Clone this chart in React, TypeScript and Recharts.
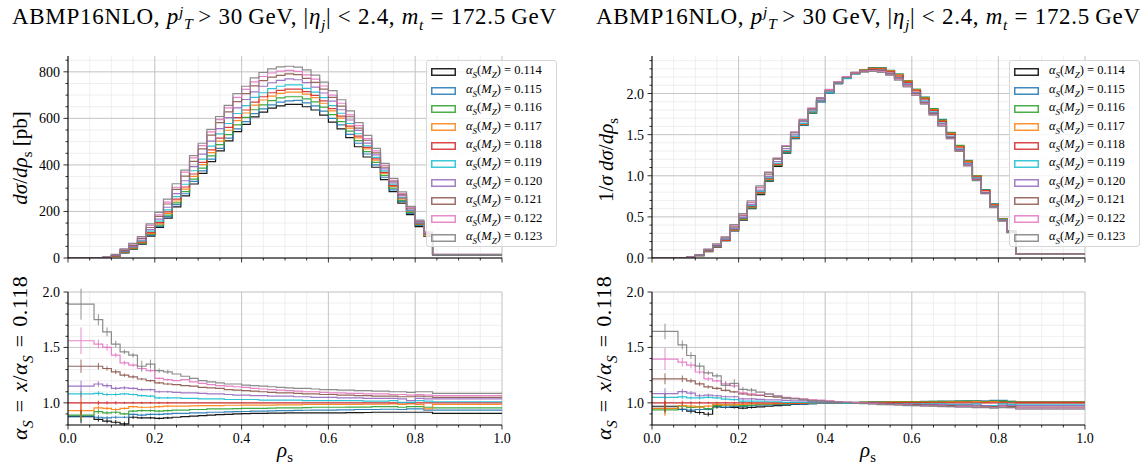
import React from "react";
import { ComposedChart, Line, Scatter, ErrorBar, XAxis, YAxis, CartesianGrid } from "recharts";

const FONT = "'Liberation Serif', 'DejaVu Serif', serif";

// bin edges in rho_s (first bin 0-0.06, last bin 0.84-1.0)
const EDGES = [
  0, 0.06, 0.08, 0.1, 0.12, 0.14, 0.16, 0.18, 0.2, 0.22, 0.24, 0.26, 0.28, 0.3,
  0.32, 0.34, 0.36, 0.38, 0.4, 0.42, 0.44, 0.46, 0.48, 0.5, 0.52, 0.54, 0.56,
  0.58, 0.6, 0.62, 0.64, 0.66, 0.68, 0.7, 0.72, 0.74, 0.76, 0.78, 0.8, 0.82,
  0.84, 1.0,
];

const ALPHAS = ["0.114", "0.115", "0.116", "0.117", "0.118", "0.119", "0.120", "0.121", "0.122", "0.123"];
const COLORS = ["#000000", "#1f77b4", "#2ca02c", "#ff7f0e", "#d62728", "#17becf", "#9467bd", "#8c564b", "#e377c2", "#7f7f7f"];

// d sigma / d rho_s [pb]
const XS_114 = [0, 0, 2, 8, 22, 38, 60, 94, 131, 171, 220, 267, 318, 364, 414, 460, 503, 543, 574, 606, 627, 644, 654, 660, 660, 650, 636, 614, 584, 555, 517, 478, 434, 390, 337, 285, 236, 186, 135, 93, 13];
const XS_115 = [0, 0, 2.2, 8.7, 23.5, 39.4, 61.4, 97.6, 136, 178, 229, 276, 329, 374, 425, 471, 515, 555, 586, 620, 641, 658, 670, 675, 677, 667, 654, 631, 600, 572, 531, 493, 447, 400, 347, 293, 243, 192, 140, 95, 13.5];
const XS_116 = [0, 0, 2.3, 9.2, 24.3, 40.7, 64.2, 101, 141, 184, 237, 285, 339, 386, 439, 487, 530, 572, 604, 637, 658, 676, 688, 693, 693, 684, 671, 648, 616, 586, 545, 504, 457, 411, 355, 300, 248, 196, 143, 98, 13.8];
const XS_117 = [0, 0, 2.4, 9.4, 25.7, 42.5, 66.2, 104.6, 146.7, 192, 245, 296, 351, 401, 453, 502, 549, 590, 623, 657, 679, 696, 707, 713, 713, 704, 689, 665, 632, 601, 558, 516, 469, 420, 363, 308, 254, 201, 146, 96, 14.2];
const XS_118 = [0, 0, 2.5, 10, 27, 44, 69, 109, 152, 198, 253, 305, 361, 411, 465, 515, 561, 603, 636, 670, 693, 710, 720, 726, 726, 715, 699, 675, 642, 610, 567, 524, 475, 426, 368, 311, 258, 203, 148, 102, 14.4];
const XS_119 = [0, 0, 2.7, 10.8, 29.2, 47.3, 73.5, 115.5, 158.8, 207, 264, 317, 375, 425, 481, 533, 578, 621, 655, 690, 710, 728, 738, 744, 744, 729, 713, 689, 655, 622, 578, 534, 482, 432, 374, 317, 259, 204, 151, 104, 14.5];
const XS_120 = [0, 0, 2.9, 11.3, 30.6, 49.7, 77.3, 122, 167, 218, 277, 332, 393, 446, 502, 556, 603, 645, 681, 714, 738, 753, 763, 770, 766, 754, 734, 709, 674, 637, 593, 548, 494, 443, 383, 323, 267, 207, 154, 106, 14.9];
const XS_121 = [0, 0, 3.3, 12.8, 33.8, 54.3, 83.8, 131, 179, 232, 295, 352, 415, 469, 528, 582, 628, 672, 706, 740, 762, 777, 785, 791, 788, 772, 755, 726, 690, 653, 607, 558, 506, 452, 390, 330, 272, 214, 157, 108, 15.1];
const XS_122 = [0, 0, 3.8, 14.3, 36.7, 59, 90.4, 140.6, 185, 240, 304, 369, 430, 483, 542, 595, 645, 690, 725, 757, 780, 795, 803, 806, 802, 787, 769, 739, 700, 665, 615, 569, 513, 460, 397, 334, 277, 217, 159, 109, 15.3];
const XS_123 = [0, 0, 4.1, 15.3, 39.4, 62.9, 91.8, 147, 196, 253, 319, 378, 440, 493, 553, 608, 656, 706, 738, 774, 797, 813, 821, 824, 820, 808, 786, 756, 719, 680, 632, 582, 527, 471, 407, 342, 284, 222, 163, 112, 15.6];

// 1/sigma d sigma / d rho_s
const NORM_114 = [0, 0, 0.007, 0.028, 0.077, 0.133, 0.21, 0.329, 0.459, 0.599, 0.771, 0.935, 1.114, 1.275, 1.45, 1.611, 1.762, 1.902, 2.011, 2.123, 2.196, 2.256, 2.291, 2.312, 2.312, 2.277, 2.228, 2.151, 2.046, 1.944, 1.811, 1.674, 1.52, 1.366, 1.181, 0.998, 0.827, 0.652, 0.473, 0.326, 0.046];
const NORM_115 = [0, 0, 0.0075, 0.03, 0.08, 0.135, 0.21, 0.334, 0.465, 0.609, 0.783, 0.944, 1.125, 1.279, 1.454, 1.611, 1.761, 1.898, 2.004, 2.12, 2.192, 2.25, 2.291, 2.309, 2.315, 2.281, 2.237, 2.158, 2.052, 1.956, 1.816, 1.686, 1.529, 1.368, 1.187, 1.002, 0.831, 0.657, 0.479, 0.325, 0.046];
const NORM_116 = [0, 0, 0.0077, 0.031, 0.081, 0.136, 0.214, 0.336, 0.47, 0.613, 0.789, 0.949, 1.129, 1.286, 1.462, 1.622, 1.765, 1.905, 2.012, 2.122, 2.192, 2.252, 2.292, 2.308, 2.308, 2.278, 2.235, 2.158, 2.052, 1.952, 1.815, 1.679, 1.522, 1.369, 1.183, 0.999, 0.826, 0.653, 0.476, 0.326, 0.046];
const NORM_117 = [0, 0, 0.0078, 0.03, 0.083, 0.137, 0.214, 0.338, 0.474, 0.621, 0.792, 0.957, 1.135, 1.296, 1.465, 1.623, 1.775, 1.907, 2.014, 2.124, 2.195, 2.25, 2.286, 2.305, 2.305, 2.276, 2.228, 2.15, 2.043, 1.943, 1.804, 1.668, 1.516, 1.358, 1.174, 0.996, 0.821, 0.65, 0.472, 0.31, 0.046];
const NORM_118 = [0, 0, 0.0079, 0.0316, 0.0854, 0.139, 0.218, 0.345, 0.481, 0.626, 0.8, 0.965, 1.142, 1.3, 1.471, 1.629, 1.775, 1.908, 2.012, 2.12, 2.192, 2.246, 2.278, 2.297, 2.297, 2.262, 2.211, 2.135, 2.031, 1.93, 1.794, 1.658, 1.503, 1.348, 1.164, 0.984, 0.816, 0.642, 0.468, 0.323, 0.0456];
const NORM_119 = [0, 0, 0.0083, 0.033, 0.09, 0.145, 0.226, 0.355, 0.488, 0.636, 0.811, 0.974, 1.152, 1.306, 1.478, 1.637, 1.776, 1.908, 2.012, 2.12, 2.181, 2.236, 2.267, 2.286, 2.286, 2.24, 2.19, 2.117, 2.012, 1.911, 1.776, 1.64, 1.481, 1.327, 1.149, 0.974, 0.796, 0.627, 0.464, 0.319, 0.0445];
const NORM_120 = [0, 0, 0.0086, 0.034, 0.091, 0.148, 0.23, 0.364, 0.498, 0.65, 0.825, 0.989, 1.171, 1.329, 1.496, 1.657, 1.797, 1.922, 2.029, 2.128, 2.199, 2.244, 2.274, 2.295, 2.283, 2.247, 2.187, 2.113, 2.009, 1.898, 1.767, 1.633, 1.472, 1.32, 1.141, 0.963, 0.796, 0.617, 0.459, 0.316, 0.0444];
const NORM_121 = [0, 0, 0.0096, 0.037, 0.098, 0.157, 0.243, 0.379, 0.518, 0.672, 0.854, 1.019, 1.201, 1.358, 1.529, 1.685, 1.818, 1.945, 2.044, 2.142, 2.206, 2.249, 2.273, 2.29, 2.281, 2.235, 2.186, 2.102, 1.998, 1.89, 1.757, 1.615, 1.465, 1.309, 1.129, 0.955, 0.787, 0.62, 0.455, 0.313, 0.0437];
const NORM_122 = [0, 0, 0.0106, 0.04, 0.104, 0.167, 0.256, 0.398, 0.523, 0.679, 0.86, 1.044, 1.216, 1.366, 1.533, 1.683, 1.824, 1.951, 2.05, 2.141, 2.206, 2.248, 2.271, 2.279, 2.268, 2.226, 2.175, 2.09, 1.98, 1.881, 1.739, 1.609, 1.451, 1.301, 1.123, 0.945, 0.783, 0.614, 0.45, 0.308, 0.0433];
const NORM_123 = [0, 0, 0.0113, 0.042, 0.108, 0.173, 0.253, 0.405, 0.539, 0.696, 0.878, 1.04, 1.211, 1.357, 1.522, 1.673, 1.805, 1.943, 2.031, 2.13, 2.193, 2.237, 2.259, 2.268, 2.257, 2.224, 2.163, 2.081, 1.979, 1.871, 1.739, 1.602, 1.45, 1.296, 1.12, 0.941, 0.782, 0.611, 0.449, 0.308, 0.0429];

// ratio to alpha_S = 0.118, d sigma / d rho_s
const RAT_114 = [0.875, 0.85, 0.835, 0.825, 0.81, 0.87, 0.865, 0.865, 0.86, 0.865, 0.87, 0.875, 0.88, 0.885, 0.89, 0.893, 0.896, 0.9, 0.903, 0.905, 0.905, 0.907, 0.908, 0.909, 0.909, 0.909, 0.91, 0.91, 0.91, 0.91, 0.912, 0.912, 0.913, 0.915, 0.915, 0.915, 0.915, 0.915, 0.915, 0.915, 0.905];
const RAT_115 = [0.88, 0.87, 0.865, 0.87, 0.87, 0.895, 0.89, 0.895, 0.895, 0.9, 0.905, 0.905, 0.91, 0.91, 0.915, 0.915, 0.918, 0.92, 0.922, 0.925, 0.925, 0.927, 0.93, 0.93, 0.932, 0.933, 0.935, 0.935, 0.935, 0.937, 0.937, 0.94, 0.94, 0.94, 0.942, 0.942, 0.94, 0.945, 0.945, 0.935, 0.935];
const RAT_116 = [0.89, 0.92, 0.91, 0.915, 0.9, 0.925, 0.93, 0.93, 0.925, 0.93, 0.935, 0.935, 0.94, 0.94, 0.945, 0.945, 0.945, 0.948, 0.95, 0.95, 0.95, 0.952, 0.955, 0.955, 0.955, 0.957, 0.96, 0.96, 0.96, 0.96, 0.962, 0.962, 0.962, 0.965, 0.965, 0.965, 0.96, 0.965, 0.965, 0.96, 0.955];
const RAT_117 = [0.93, 0.955, 0.95, 0.94, 0.95, 0.965, 0.96, 0.96, 0.965, 0.97, 0.97, 0.97, 0.972, 0.975, 0.975, 0.975, 0.978, 0.978, 0.98, 0.98, 0.98, 0.98, 0.982, 0.982, 0.982, 0.985, 0.985, 0.985, 0.985, 0.985, 0.985, 0.985, 0.987, 0.987, 0.987, 0.99, 0.985, 0.99, 0.985, 0.945, 0.985];
const RAT_118 = [1, 1, 1, 1, 1, 1, 1, 1, 1, 1, 1, 1, 1, 1, 1, 1, 1, 1, 1, 1, 1, 1, 1, 1, 1, 1, 1, 1, 1, 1, 1, 1, 1, 1, 1, 1, 1, 1, 1, 1, 1];
const RAT_119 = [1.08, 1.085, 1.075, 1.075, 1.08, 1.075, 1.065, 1.06, 1.045, 1.045, 1.045, 1.04, 1.04, 1.035, 1.035, 1.035, 1.03, 1.03, 1.03, 1.03, 1.025, 1.025, 1.025, 1.025, 1.025, 1.02, 1.02, 1.02, 1.02, 1.02, 1.02, 1.02, 1.015, 1.015, 1.015, 1.02, 1.005, 1.005, 1.02, 1.015, 1.01];
const RAT_120 = [1.15, 1.17, 1.155, 1.13, 1.135, 1.13, 1.12, 1.12, 1.1, 1.1, 1.095, 1.09, 1.09, 1.085, 1.08, 1.08, 1.075, 1.07, 1.07, 1.065, 1.065, 1.06, 1.06, 1.06, 1.055, 1.055, 1.05, 1.05, 1.05, 1.045, 1.045, 1.045, 1.04, 1.04, 1.04, 1.04, 1.035, 1.02, 1.04, 1.035, 1.035];
const RAT_121 = [1.33, 1.33, 1.31, 1.28, 1.25, 1.235, 1.215, 1.2, 1.18, 1.17, 1.165, 1.155, 1.15, 1.14, 1.135, 1.13, 1.12, 1.115, 1.11, 1.105, 1.1, 1.095, 1.09, 1.09, 1.085, 1.08, 1.08, 1.075, 1.075, 1.07, 1.07, 1.065, 1.065, 1.06, 1.06, 1.06, 1.055, 1.055, 1.06, 1.055, 1.05];
const RAT_122 = [1.56, 1.53, 1.5, 1.43, 1.36, 1.34, 1.31, 1.29, 1.22, 1.21, 1.2, 1.21, 1.19, 1.175, 1.165, 1.155, 1.15, 1.145, 1.14, 1.13, 1.125, 1.12, 1.115, 1.11, 1.105, 1.1, 1.1, 1.095, 1.09, 1.09, 1.085, 1.085, 1.08, 1.08, 1.08, 1.075, 1.075, 1.07, 1.075, 1.07, 1.065];
const RAT_123 = [1.89, 1.75, 1.64, 1.53, 1.46, 1.43, 1.33, 1.35, 1.29, 1.28, 1.26, 1.24, 1.22, 1.2, 1.19, 1.18, 1.17, 1.17, 1.16, 1.155, 1.15, 1.145, 1.14, 1.135, 1.13, 1.13, 1.125, 1.12, 1.12, 1.115, 1.115, 1.11, 1.11, 1.105, 1.105, 1.1, 1.1, 1.095, 1.1, 1.1, 1.085];

// ratio to alpha_S = 0.118, normalised distribution
const RATN_114 = [0.969, 0.941, 0.924, 0.913, 0.897, 0.963, 0.958, 0.958, 0.952, 0.958, 0.963, 0.969, 0.974, 0.98, 0.985, 0.989, 0.992, 0.996, 1.0, 1.002, 1.002, 1.004, 1.005, 1.006, 1.006, 1.006, 1.007, 1.007, 1.007, 1.007, 1.01, 1.01, 1.011, 1.013, 1.013, 1.013, 1.013, 1.013, 1.013, 1.013, 1.002];
const RATN_115 = [0.951, 0.94, 0.935, 0.94, 0.94, 0.967, 0.962, 0.967, 0.967, 0.973, 0.978, 0.978, 0.984, 0.984, 0.989, 0.989, 0.992, 0.995, 0.997, 1.0, 1.0, 1.002, 1.005, 1.005, 1.007, 1.009, 1.011, 1.011, 1.011, 1.013, 1.013, 1.016, 1.016, 1.016, 1.018, 1.018, 1.016, 1.022, 1.022, 1.011, 1.011];
const RATN_116 = [0.937, 0.969, 0.958, 0.963, 0.948, 0.974, 0.979, 0.979, 0.974, 0.979, 0.985, 0.985, 0.99, 0.99, 0.995, 0.995, 0.995, 0.998, 1.0, 1.0, 1.0, 1.002, 1.006, 1.006, 1.006, 1.008, 1.011, 1.011, 1.011, 1.011, 1.013, 1.013, 1.013, 1.016, 1.016, 1.016, 1.011, 1.016, 1.016, 1.011, 1.006];
const RATN_117 = [0.95, 0.976, 0.971, 0.961, 0.971, 0.986, 0.981, 0.981, 0.986, 0.991, 0.991, 0.991, 0.993, 0.996, 0.996, 0.996, 0.999, 0.999, 1.002, 1.002, 1.002, 1.002, 1.004, 1.004, 1.004, 1.007, 1.007, 1.007, 1.007, 1.007, 1.007, 1.007, 1.009, 1.009, 1.009, 1.012, 1.007, 1.012, 1.007, 0.966, 1.007];
const RATN_118 = [1, 1, 1, 1, 1, 1, 1, 1, 1, 1, 1, 1, 1, 1, 1, 1, 1, 1, 1, 1, 1, 1, 1, 1, 1, 1, 1, 1, 1, 1, 1, 1, 1, 1, 1, 1, 1, 1, 1, 1, 1];
const RATN_119 = [1.049, 1.054, 1.044, 1.044, 1.049, 1.044, 1.034, 1.029, 1.015, 1.015, 1.015, 1.01, 1.01, 1.005, 1.005, 1.005, 1.0, 1.0, 1.0, 1.0, 0.995, 0.995, 0.995, 0.995, 0.995, 0.99, 0.99, 0.99, 0.99, 0.99, 0.99, 0.99, 0.986, 0.986, 0.986, 0.99, 0.976, 0.976, 0.99, 0.986, 0.981];
const RATN_120 = [1.083, 1.102, 1.088, 1.064, 1.069, 1.064, 1.055, 1.055, 1.036, 1.036, 1.031, 1.027, 1.027, 1.022, 1.017, 1.017, 1.013, 1.008, 1.008, 1.003, 1.003, 0.999, 0.999, 0.999, 0.994, 0.994, 0.989, 0.989, 0.989, 0.984, 0.984, 0.984, 0.98, 0.98, 0.98, 0.98, 0.975, 0.961, 0.98, 0.975, 0.975];
const RATN_121 = [1.217, 1.217, 1.199, 1.171, 1.144, 1.13, 1.112, 1.098, 1.08, 1.071, 1.066, 1.057, 1.052, 1.043, 1.039, 1.034, 1.025, 1.02, 1.016, 1.011, 1.007, 1.002, 0.997, 0.997, 0.993, 0.988, 0.988, 0.984, 0.984, 0.979, 0.979, 0.974, 0.974, 0.97, 0.97, 0.97, 0.965, 0.965, 0.97, 0.965, 0.961];
const RATN_122 = [1.395, 1.368, 1.341, 1.278, 1.216, 1.198, 1.171, 1.153, 1.091, 1.082, 1.073, 1.082, 1.064, 1.05, 1.042, 1.033, 1.028, 1.024, 1.019, 1.01, 1.006, 1.001, 0.997, 0.992, 0.988, 0.983, 0.983, 0.979, 0.974, 0.974, 0.97, 0.97, 0.966, 0.966, 0.966, 0.961, 0.961, 0.957, 0.961, 0.957, 0.952];
const RATN_123 = [1.644, 1.523, 1.427, 1.331, 1.27, 1.244, 1.157, 1.175, 1.122, 1.114, 1.096, 1.079, 1.061, 1.044, 1.035, 1.027, 1.018, 1.018, 1.009, 1.005, 1.001, 0.996, 0.992, 0.987, 0.983, 0.983, 0.979, 0.974, 0.974, 0.97, 0.97, 0.966, 0.966, 0.961, 0.961, 0.957, 0.957, 0.953, 0.957, 0.957, 0.944];

// statistical errors on the ratios, first ten bins (half widths)
const ERR_114 = [0.06, 0.02, 0.02, 0.02, 0.02, 0.015, 0.01, 0.01, 0.01, 0.01];
const ERR_115 = [0.05, 0.02, 0.015, 0.015, 0.01, 0.01, 0.01, 0.01, 0.01, 0.01];
const ERR_116 = [0.05, 0.02, 0.015, 0.015, 0.01, 0.01, 0.01, 0.01, 0.01, 0.01];
const ERR_117 = [0.08, 0.02, 0.015, 0.015, 0.01, 0.01, 0.01, 0.01, 0.01, 0.01];
const ERR_118 = [0.1, 0.02, 0.015, 0.015, 0.01, 0.01, 0.01, 0.01, 0.01, 0.01];
const ERR_119 = [0.03, 0.02, 0.015, 0.015, 0.01, 0.01, 0.01, 0.01, 0.01, 0.01];
const ERR_120 = [0.05, 0.025, 0.02, 0.015, 0.015, 0.01, 0.01, 0.01, 0.01, 0.01];
const ERR_121 = [0.06, 0.03, 0.02, 0.02, 0.015, 0.015, 0.01, 0.01, 0.01, 0.01];
const ERR_122 = [0.12, 0.04, 0.03, 0.02, 0.02, 0.015, 0.015, 0.015, 0.01, 0.01];
const ERR_123 = [0.14, 0.05, 0.04, 0.03, 0.02, 0.02, 0.05, 0.04, 0.02, 0.02];

const ERRN_114 = [0.05, 0.02, 0.02, 0.02, 0.02, 0.015, 0.01, 0.01, 0.01, 0.01];
const ERRN_115 = [0.04, 0.02, 0.015, 0.015, 0.01, 0.01, 0.01, 0.01, 0.01, 0.01];
const ERRN_116 = [0.04, 0.02, 0.015, 0.015, 0.01, 0.01, 0.01, 0.01, 0.01, 0.01];
const ERRN_117 = [0.07, 0.02, 0.015, 0.015, 0.01, 0.01, 0.01, 0.01, 0.01, 0.01];
const ERRN_118 = [0.08, 0.02, 0.015, 0.015, 0.01, 0.01, 0.01, 0.01, 0.01, 0.01];
const ERRN_119 = [0.03, 0.02, 0.015, 0.015, 0.01, 0.01, 0.01, 0.01, 0.01, 0.01];
const ERRN_120 = [0.05, 0.025, 0.02, 0.015, 0.015, 0.01, 0.01, 0.01, 0.01, 0.01];
const ERRN_121 = [0.05, 0.03, 0.02, 0.02, 0.015, 0.015, 0.01, 0.01, 0.01, 0.01];
const ERRN_122 = [0.1, 0.04, 0.03, 0.02, 0.02, 0.015, 0.015, 0.015, 0.01, 0.01];
const ERRN_123 = [0.07, 0.04, 0.03, 0.03, 0.02, 0.02, 0.04, 0.04, 0.02, 0.02];

// axis ticks
const X_MAJOR = [0, 0.2, 0.4, 0.6, 0.8, 1.0];
const X_MINOR = [0, 0.05, 0.1, 0.15, 0.2, 0.25, 0.3, 0.35, 0.4, 0.45, 0.5, 0.55, 0.6, 0.65, 0.7, 0.75, 0.8, 0.85, 0.9, 0.95, 1.0];
const XS_MAJOR = [0, 200, 400, 600, 800];
const XS_MINOR = [0, 50, 100, 150, 200, 250, 300, 350, 400, 450, 500, 550, 600, 650, 700, 750, 800, 850];
const NORM_MAJOR = [0, 0.5, 1.0, 1.5, 2.0];
const NORM_MINOR = [0, 0.1, 0.2, 0.3, 0.4, 0.5, 0.6, 0.7, 0.8, 0.9, 1.0, 1.1, 1.2, 1.3, 1.4, 1.5, 1.6, 1.7, 1.8, 1.9, 2.0, 2.1, 2.2, 2.3, 2.4];
const RAT_MAJOR = [1.0, 1.5, 2.0];
const RAT_MINOR = [0.8, 0.9, 1.0, 1.1, 1.2, 1.3, 1.4, 1.5, 1.6, 1.7, 1.8, 1.9, 2.0];

const XS = [XS_114, XS_115, XS_116, XS_117, XS_118, XS_119, XS_120, XS_121, XS_122, XS_123];
const NORM = [NORM_114, NORM_115, NORM_116, NORM_117, NORM_118, NORM_119, NORM_120, NORM_121, NORM_122, NORM_123];
const RAT = [RAT_114, RAT_115, RAT_116, RAT_117, RAT_118, RAT_119, RAT_120, RAT_121, RAT_122, RAT_123];
const RATN = [RATN_114, RATN_115, RATN_116, RATN_117, RATN_118, RATN_119, RATN_120, RATN_121, RATN_122, RATN_123];
const ERR = [ERR_114, ERR_115, ERR_116, ERR_117, ERR_118, ERR_119, ERR_120, ERR_121, ERR_122, ERR_123];
const ERRN = [ERRN_114, ERRN_115, ERRN_116, ERRN_117, ERRN_118, ERRN_119, ERRN_120, ERRN_121, ERRN_122, ERRN_123];

// one row per bin edge, last edge repeats the last bin so stepAfter closes at 1.0
function buildRows(sets: number[][]) {
  return EDGES.map((x, i) => {
    const row: Record<string, number> = { x };
    sets.forEach((vals, k) => {
      row["s" + k] = vals[Math.min(i, vals.length - 1)];
    });
    return row;
  });
}

// error bar points at the bin centres
function buildErrRows(vals: number[], errs: number[]) {
  return errs.map((e, i) => ({ x: (EDGES[i] + EDGES[i + 1]) / 2, y: vals[i], e }));
}

const isIn = (list: number[], v: number) => list.some((m) => Math.abs(m - v) < 1e-6);

const makeYTick = (major: number[], fmt: (v: number) => string) => (props: any) => {
  const { x, y, payload } = props;
  const big = isIn(major, payload.value);
  return (
    <g>
      <line x1={x} x2={x - (big ? 4.5 : 2.5)} y1={y} y2={y} stroke="#000" strokeWidth={0.8} />
      {big ? (
        <text x={x - 8} y={y} dy="0.36em" textAnchor="end" fontSize={14} fontFamily={FONT} fill="#000">
          {fmt(payload.value)}
        </text>
      ) : null}
    </g>
  );
};

const makeXTick = (showLabels: boolean) => (props: any) => {
  const { x, y, payload } = props;
  const big = isIn(X_MAJOR, payload.value);
  return (
    <g>
      <line x1={x} x2={x} y1={y} y2={y + (big ? 4.5 : 2.5)} stroke="#000" strokeWidth={0.8} />
      {big && showLabels ? (
        <text x={x} y={y + 13} dy="0.36em" textAnchor="middle" fontSize={14} fontFamily={FONT} fill="#000">
          {payload.value.toFixed(1)}
        </text>
      ) : null}
    </g>
  );
};

const NoDot = () => <g />;

interface PanelProps {
  left: number;
  top: number;
  w: number;
  h: number;
  sets: number[][];
  errs?: number[][];
  yDomain: [number, number];
  yMajor: number[];
  yMinor: number[];
  yFmt: (v: number) => string;
  xLabels: boolean;
}

function Panel({ left, top, w, h, sets, errs, yDomain, yMajor, yMinor, yFmt, xLabels }: PanelProps) {
  const YW = 60;
  const PT = 12;
  const PR = 16;
  const XH = 28;
  const rows = buildRows(sets);
  return (
    <div style={{ position: "absolute", left: left - YW, top: top - PT }}>
      <ComposedChart
        width={YW + w + PR}
        height={PT + h + XH}
        data={rows}
        margin={{ top: PT, right: PR, left: 0, bottom: 0 }}
      >
        <CartesianGrid horizontalValues={yMinor} verticalValues={X_MINOR} stroke="#ebebeb" strokeWidth={0.8} />
        <CartesianGrid horizontalValues={yMajor} verticalValues={X_MAJOR} stroke="#bdbdbd" strokeWidth={0.8} />
        <XAxis
          type="number"
          dataKey="x"
          domain={[0, 1]}
          ticks={X_MINOR}
          interval={0}
          height={XH}
          tickSize={0}
          tickMargin={0}
          tickLine={false}
          tick={makeXTick(xLabels)}
          stroke="#000"
          allowDataOverflow
        />
        <XAxis xAxisId="top" orientation="top" type="number" dataKey="x" domain={[0, 1]} height={0} tick={false} tickLine={false} stroke="#000" />
        <YAxis
          type="number"
          domain={yDomain}
          ticks={yMinor}
          interval={0}
          width={YW}
          tickSize={0}
          tickMargin={0}
          tickLine={false}
          tick={makeYTick(yMajor, yFmt)}
          stroke="#000"
          allowDataOverflow
        />
        <YAxis yAxisId="right" orientation="right" type="number" domain={yDomain} width={0} tick={false} tickLine={false} stroke="#000" />
        {ALPHAS.map((a, k) => (
          <Line
            key={a}
            type="stepAfter"
            dataKey={"s" + k}
            stroke={COLORS[k]}
            strokeWidth={1.2}
            strokeOpacity={0.9}
            dot={false}
            isAnimationActive={false}
          />
        ))}
        {errs
          ? ALPHAS.map((a, k) => (
              <Scatter
                key={"e" + a}
                data={buildErrRows(sets[k], errs[k])}
                dataKey="y"
                shape={NoDot}
                isAnimationActive={false}
              >
                <ErrorBar dataKey="e" direction="y" width={0} stroke={COLORS[k]} strokeWidth={1} strokeOpacity={0.85} isAnimationActive={false} />
              </Scatter>
            ))
          : null}
      </ComposedChart>
    </div>
  );
}

function Patch({ color }: { color: string }) {
  return (
    <svg width={25} height={8} style={{ display: "block", marginLeft: 4 }}>
      <rect x={0.75} y={0.75} width={23.5} height={6.5} fill="none" stroke={color} strokeWidth={1.5} strokeOpacity={0.85} />
    </svg>
  );
}

function AlphaLabel({ a }: { a: string }) {
  return (
    <span>
      <i>α</i>
      <sub style={{ fontSize: "0.72em" }}>
        <i>S</i>
      </sub>
      (<i>M</i>
      <sub style={{ fontSize: "0.72em" }}>
        <i>Z</i>
      </sub>
      ) = {a}
    </span>
  );
}

function LegendBox({ left, top }: { left: number; top: number }) {
  return (
    <div
      style={{
        position: "absolute",
        left,
        top,
        width: 131,
        height: 187,
        border: "1px solid #d6d6d6",
        borderRadius: 3,
        background: "rgba(255,255,255,0.8)",
        boxSizing: "border-box",
        fontFamily: FONT,
        fontSize: 12.5,
      }}
    >
      {ALPHAS.map((a, k) => (
        <div key={a} style={{ position: "absolute", left: 0, top: 2 + k * 18.4, height: 18.4, display: "flex", alignItems: "center", whiteSpace: "nowrap" }}>
          <Patch color={COLORS[k]} />
          <span style={{ marginLeft: 10, lineHeight: 1 }}>
            <AlphaLabel a={a} />
          </span>
        </div>
      ))}
    </div>
  );
}

function Title({ left }: { left: number }) {
  return (
    <div style={{ position: "absolute", left, top: 4, fontFamily: FONT, fontSize: 23, lineHeight: "26px", letterSpacing: 0.7, whiteSpace: "nowrap", color: "#000" }}>
      ABMP16NLO,{" "}
      <i>p</i>
      <i style={{ fontSize: "0.68em", verticalAlign: "0.42em", lineHeight: 0 }}>j</i>
      <i style={{ fontSize: "0.68em", verticalAlign: "-0.3em", lineHeight: 0, marginRight: 5 }}>T</i>
      &gt; 30{"\u2009"}GeV, |<i>η</i>
      <sub style={{ fontSize: "0.68em", lineHeight: 0 }}>
        <i>j</i>
      </sub>
      | &lt; 2.4, <i>m</i>
      <sub style={{ fontSize: "0.68em", lineHeight: 0 }}>
        <i>t</i>
      </sub>{" "}
      = 172.5{"\u2009"}GeV
    </div>
  );
}

function VLabel({ cx, cy, size, spacing, children }: { cx: number; cy: number; size: number; spacing?: number; children: React.ReactNode }) {
  return (
    <div
      style={{
        position: "absolute",
        left: cx,
        top: cy,
        transform: "translate(-50%, -50%) rotate(-90deg)",
        fontFamily: FONT,
        fontSize: size,
        letterSpacing: spacing || 0,
        whiteSpace: "nowrap",
        color: "#000",
      }}
    >
      {children}
    </div>
  );
}

function RhoLabel({ cx }: { cx: number }) {
  return (
    <div style={{ position: "absolute", left: cx, top: 441, transform: "translateX(-50%)", fontFamily: FONT, fontSize: 21, lineHeight: "18px", color: "#000" }}>
      <i>ρ</i>
      <sub style={{ fontSize: "0.7em", lineHeight: 0 }}>s</sub>
    </div>
  );
}

const RatioText = () => (
  <span>
    <i>α</i>
    <sub style={{ fontSize: "0.7em" }}>
      <i>S</i>
    </sub>
    {"\u2004=\u2004"}
    <i>x</i>/<i>α</i>
    <sub style={{ fontSize: "0.7em" }}>
      <i>S</i>
    </sub>
    {"\u2004=\u2004"}0.118
  </span>
);

export default function App() {
  const intFmt = (v: number) => String(Math.round(v));
  const decFmt = (v: number) => v.toFixed(1);
  return (
    <div style={{ position: "relative", width: 1140, height: 465, background: "#fff", overflow: "hidden" }}>
      <style>{"body{margin:0}"}</style>
      <Title left={12} />
      <Title left={596} />

      <Panel left={68} top={56} w={434} h={202} sets={XS} yDomain={[0, 868]} yMajor={XS_MAJOR} yMinor={XS_MINOR} yFmt={intFmt} xLabels={false} />
      <Panel left={68} top={292} w={434} h={133} sets={RAT} errs={ERR} yDomain={[0.8, 2.0]} yMajor={RAT_MAJOR} yMinor={RAT_MINOR} yFmt={decFmt} xLabels />
      <Panel left={652} top={56} w={433} h={202} sets={NORM} yDomain={[0, 2.456]} yMajor={NORM_MAJOR} yMinor={NORM_MINOR} yFmt={decFmt} xLabels={false} />
      <Panel left={652} top={292} w={433} h={133} sets={RATN} errs={ERRN} yDomain={[0.8, 2.0]} yMajor={RAT_MAJOR} yMinor={RAT_MINOR} yFmt={decFmt} xLabels />

      <LegendBox left={426} top={60} />
      <LegendBox left={1009} top={60} />

      <VLabel cx={22} cy={158} size={21}>
        <i>dσ</i>/<i>dρ</i>
        <sub style={{ fontSize: "0.7em" }}>s</sub> [pb]
      </VLabel>
      <VLabel cx={22} cy={358} size={22} spacing={0.4}>
        <RatioText />
      </VLabel>
      <VLabel cx={608} cy={160} size={21}>
        1/<i>σ</i>
        {"\u2009"}
        <i>dσ</i>/<i>dρ</i>
        <sub style={{ fontSize: "0.7em" }}>s</sub>
      </VLabel>
      <VLabel cx={606} cy={358} size={22} spacing={0.4}>
        <RatioText />
      </VLabel>

      <RhoLabel cx={285} />
      <RhoLabel cx={868} />
    </div>
  );
}
